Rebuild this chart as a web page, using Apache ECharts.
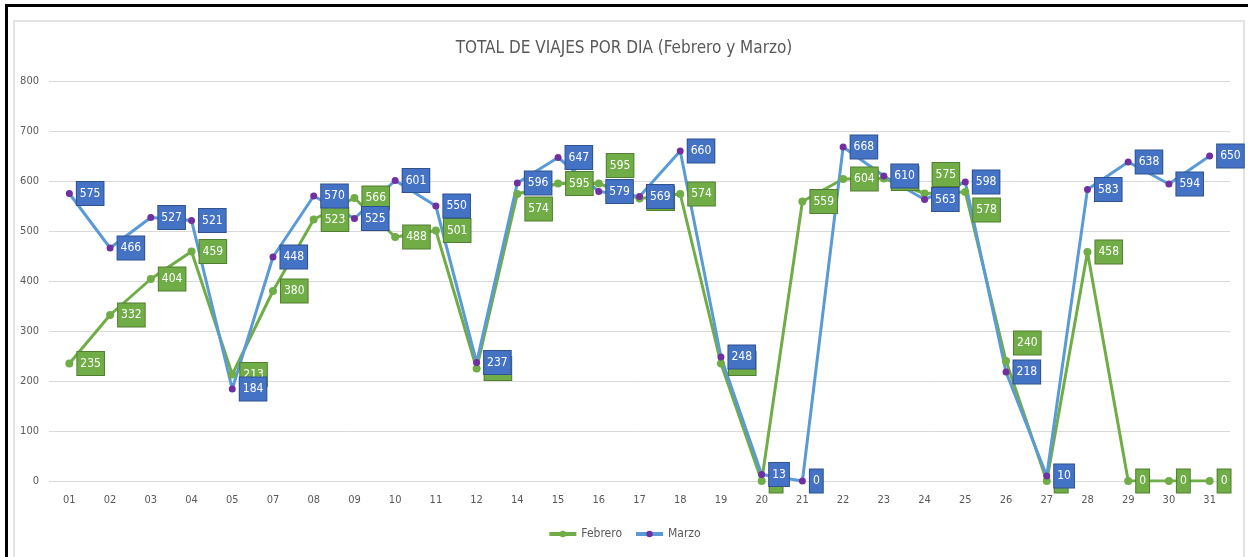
<!DOCTYPE html>
<html>
<head>
<meta charset="utf-8">
<script src="https://cdn.jsdelivr.net/npm/echarts@6/dist/echarts.min.js"></script>
<style>
  html, body { margin: 0; padding: 0; background: #fff; }
  .page { position: relative; width: 1248px; height: 557px; overflow: hidden; }
  .frame-top { position: absolute; left: 5px; top: 4px; width: 1243px; height: 3px; background: #000; }
  .frame-left { position: absolute; left: 5px; top: 4px; width: 3px; height: 553px; background: #000; }
  .box { position: absolute; left: 13px; top: 20px; width: 1228px; height: 545px; border: 2px solid #e4e4e4; }
  #chart { position: absolute; left: 0; top: 0; width: 1248px; height: 557px; }
</style>
</head>
<body>
<div class="page">
  <div class="frame-top"></div>
  <div class="frame-left"></div>
  <div class="box"></div>
  <div id="chart"></div>
</div>
<script>
// dias con registro
var dias = ['01','02','03','04','05','07','08','09','10','11','12','14','15','16','17','18','19','20','21','22','23','24','25','26','27','28','29','30','31'];
var febrero = [235,332,404,459,213,380,523,566,488,501,225,574,595,595,565,574,235,0,559,604,605,575,578,240,0,458,0,0,0];
var marzo = [575,466,527,521,184,448,570,525,601,550,237,596,647,579,569,660,248,13,0,668,610,563,598,218,10,583,638,594,650];
var yTicks = [0,100,200,300,400,500,600,700,800];

// etiquetas que Excel movio (indice -> desplazamiento vertical)
var febShift = {11: 15, 13: -18, 21: -19, 22: 18, 23: -18};

var font = "'DejaVu Sans Condensed', sans-serif";

function boxLabel(bg, border){
  return {
    show: true,
    position: 'right',
    distance: 4,
    color: '#fff',
    fontSize: 12,
    fontFamily: font,
    lineHeight: 15,
    backgroundColor: bg,
    borderColor: border,
    borderWidth: 1,
    padding: [4, 3, 4, 3]
  };
}

var febData = febrero.map(function(v, i){
  if (febShift[i] !== undefined) {
    return { value: v, label: { offset: [0, febShift[i]] } };
  }
  return v;
});

var chart = echarts.init(document.getElementById('chart'));
chart.setOption({
  animation: false,
  title: {
    text: 'TOTAL DE VIAJES POR DIA (Febrero y Marzo)',
    left: 'center',
    top: 35,
    textStyle: { color: '#595959', fontSize: 17, fontWeight: 'normal', fontFamily: font }
  },
  legend: {
    bottom: 12,
    left: 'center',
    itemWidth: 27,
    itemHeight: 8,
    itemGap: 12,
    lineStyle: { width: 4 },
    textStyle: { color: '#595959', fontSize: 12, fontFamily: font },
    data: ['Febrero', 'Marzo']
  },
  grid: { left: 49, right: 18, top: 81, bottom: 76 },
  xAxis: {
    type: 'category',
    data: dias,
    axisLine: { show: false },
    axisTick: { show: false },
    axisLabel: { color: '#595959', fontSize: 11, fontFamily: font, margin: 14 }
  },
  yAxis: {
    type: 'value',
    min: yTicks[0],
    max: yTicks[yTicks.length - 1],
    interval: 100,
    axisLine: { show: false },
    axisTick: { show: false },
    axisLabel: { color: '#595959', fontSize: 11, fontFamily: font, margin: 10 },
    splitLine: { lineStyle: { color: '#d9d9d9', width: 1 } }
  },
  series: [
    {
      name: 'Febrero',
      type: 'line',
      data: febData,
      symbol: 'circle',
      symbolSize: 8,
      itemStyle: { color: '#70AD47' },
      lineStyle: { color: '#70AD47', width: 3 },
      label: boxLabel('#70AD47', '#507E32'),
      emphasis: { disabled: true }
    },
    {
      name: 'Marzo',
      type: 'line',
      data: marzo,
      symbol: 'circle',
      symbolSize: 7,
      itemStyle: { color: '#7030A0' },
      lineStyle: { color: '#5B9BD5', width: 3 },
      label: boxLabel('#4472C4', '#2F528F'),
      emphasis: { disabled: true }
    }
  ]
});
</script>
</body>
</html>
